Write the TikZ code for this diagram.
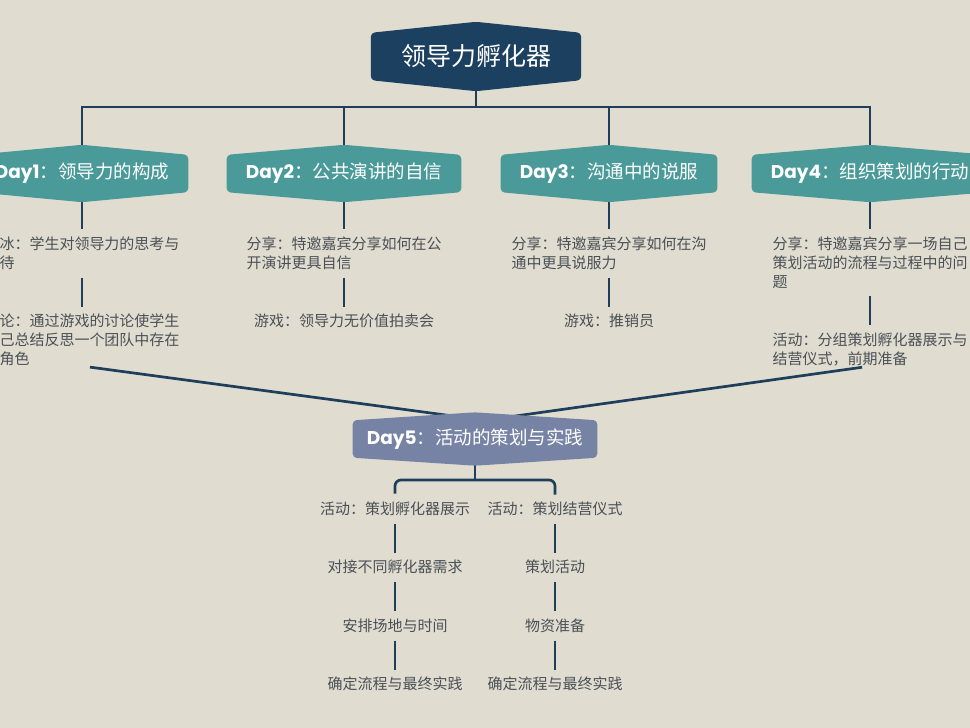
\documentclass[tikz,border=0pt]{standalone}
\usepackage{fontspec}
\setmainfont{Noto Sans CJK SC}
\newfontfamily\dayfont{Poppins}
\usepackage{xcolor}
\usepackage{tikz}
\usetikzlibrary{positioning, backgrounds}
\definecolor{paper}{HTML}{E0DDD0}
\definecolor{navy}{HTML}{1C4060}
\definecolor{daycol}{HTML}{4B9A9A}
\definecolor{lastday}{HTML}{7783A4}
\definecolor{wire}{HTML}{1E3E5B}
\definecolor{ink}{HTML}{4A5056}
\pgfdeclarelayer{wires}
\pgfdeclarelayer{plates}
\pgfsetlayers{background,wires,plates,main}
\newcommand{\plate}[3]{%
	\begin{pgfonlayer}{plates}
		\fill[#2, rounded corners=4pt] (#1.north west) -- ([yshift=#3]#1.north) -- (#1.north east)
		-- (#1.south east) -- ([yshift=-#3]#1.south) -- (#1.south west) -- cycle;
	\end{pgfonlayer}}
\tikzset{
	hub/.style={font=\fontsize{25}{30}\selectfont, text=white, inner xsep=30pt,
		inner ysep=0pt, minimum height=47pt},
	day/.style={font=\fontsize{18.5}{22}\selectfont, text=white, inner xsep=19pt,
		inner ysep=0pt, minimum height=37pt},
	item/.style={font=\fontsize{15}{19}\selectfont, text=ink, inner sep=0pt, align=left},
	link/.style={wire, line width=2.7pt, shorten <=8pt, shorten >=7pt},
}

\begin{document}
\begin{tikzpicture}[x=1pt, y=-1pt, node distance=44pt]
			\begin{pgfonlayer}{background}
				\fill[paper] (0,0) rectangle (970,728);
			\end{pgfonlayer}
			\useasboundingbox (0,0) rectangle (970,728);
			\node[hub] (root) at (476,56.5) {领导力孵化器};
			\node[day] (d1) at (82,173.5) {{\dayfont\bfseries Day1}：领导力的构成};
			\node[day] (d2) at (344,173.5) {{\dayfont\bfseries Day2}：公共演讲的自信};
			\node[day] (d3) at (609,173.5) {{\dayfont\bfseries Day3}：沟通中的说服};
			\node[day] (d4) at (870,173.5) {{\dayfont\bfseries Day4}：组织策划的行动};
			\node[item, below=of d1] (d1a) {破冰：学生对领导力的思考与\\期待};
			\node[item, below=of d1a] (d1b) {讨论：通过游戏的讨论使学生\\自己总结反思一个团队中存在\\的角色};
			\node[item, below=of d2] (d2a) {分享：特邀嘉宾分享如何在公\\开演讲更具自信};
			\node[item, below=of d2a] (d2b) {游戏：领导力无价值拍卖会};
			\node[item, below=of d3] (d3a) {分享：特邀嘉宾分享如何在沟\\通中更具说服力};
			\node[item, below=of d3a] (d3b) {游戏：推销员};
			\node[item, below=of d4] (d4a) {分享：特邀嘉宾分享一场自己\\策划活动的流程与过程中的问\\题};
			\node[item, below=of d4a] (d4b) {活动：分组策划孵化器展示与\\结营仪式，前期准备};
			\node[day, inner xsep=14pt] (d5) at (475,439) {{\dayfont\bfseries Day5}：活动的策划与实践};
			\node[item, below=of d5, xshift=-80pt] (d5a) {活动：策划孵化器展示};
			\node[item, below=of d5a] (d5a1) {对接不同孵化器需求};
			\node[item, below=of d5a1] (d5a2) {安排场地与时间};
			\node[item, below=of d5a2] (d5a3) {确定流程与最终实践};
			\node[item, below=of d5, xshift=80pt] (d5b) {活动：策划结营仪式};
			\node[item, below=of d5b] (d5b1) {策划活动};
			\node[item, below=of d5b1] (d5b2) {物资准备};
			\node[item, below=of d5b2] (d5b3) {确定流程与最终实践};
			\plate{root}{navy}{11pt}
			\foreach \d in {d1,d2,d3,d4}
				\plate{\d}{daycol}{10pt};
			\plate{d5}{lastday}{8pt}
			\begin{pgfonlayer}{wires}
				\coordinate (bar) at (476,107);
				\coordinate (fork) at (475,480);
				\draw[wire, line width=2.9pt] (root) -- (root |- bar);
				\draw[wire, line width=2.9pt] (d1) -- (d1 |- bar) -- (d4 |- bar) -- (d4);
				\draw[wire, line width=2.9pt] (d2 |- bar) -- (d2);
				\draw[wire, line width=2.9pt] (d3 |- bar) -- (d3);
				\foreach \a/\b in {d1/d1a, d1a/d1b, d2/d2a, d2a/d2b, d3/d3a, d3a/d3b, d4/d4a, d4a/d4b,
					d5a/d5a1, d5a1/d5a2, d5a2/d5a3, d5b/d5b1, d5b1/d5b2, d5b2/d5b3}
					\draw[link] (\a.south) -- (\b.north);
				\draw[link] (d1b.south) -- ([xshift=10pt]d5.north);
				\draw[link] (d4b.south) -- ([xshift=10pt]d5.north);
				\draw[wire, line width=2.7pt] (d5) -- (d5 |- fork);
				\draw[link, rounded corners=6pt] (d5a.north) -- (d5a.north |- fork) -- (d5b.north |- fork) -- (d5b.north);
			\end{pgfonlayer}
		\end{tikzpicture}
\end{document}
